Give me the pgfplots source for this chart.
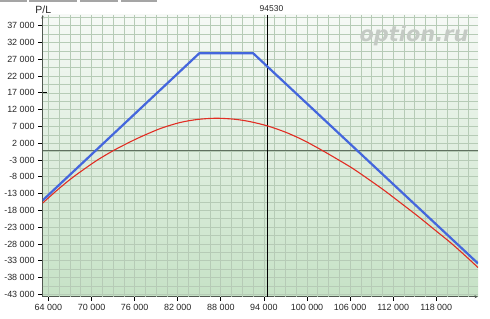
\documentclass[border=0pt]{standalone}
\usepackage{pgfplots}
\pgfplotsset{compat=1.18}
\usepackage{fontspec}
\setmainfont{Liberation Sans}
\newfontfamily\wmfont{DejaVu Sans}
\usetikzlibrary{arrows.meta}
\definecolor{bgtop}{RGB}{246,249,246}
\definecolor{bgbot}{RGB}{198,226,198}
\definecolor{gridcol}{RGB}{182,203,182}
\definecolor{axiscol}{RGB}{80,88,80}
\definecolor{zerocol}{RGB}{96,112,96}
\definecolor{bluecol}{RGB}{68,102,221}
\definecolor{redcol}{RGB}{225,45,35}
\definecolor{wmcol}{RGB}{196,202,196}
\definecolor{tabcol}{RGB}{165,165,165}
\begin{document}
\begin{tikzpicture}
\begin{axis}[
  at={(42.7bp,22.3bp)}, anchor=south west,
  scale only axis, width=435.3bp, height=281.7bp,
  xmin=63200, xmax=123800, ymin=-43700, ymax=40200,
  scaled x ticks=false, scaled y ticks=false,
  axis lines=left,
  axis line style={draw=axiscol, line width=0.8bp, -{Stealth[length=3.5bp,width=3bp]}},
  axis background/.style={top color=bgtop, bottom color=bgbot},
  xtick={64000,70000,76000,82000,88000,94000,100000,106000,112000,118000},
  xticklabels={64 000,70 000,76 000,82 000,88 000,94 000,100 000,106 000,112 000,118 000},
  ytick={-43000,-38000,-33000,-28000,-23000,-18000,-13000,-8000,-3000,2000,7000,12000,17000,22000,27000,32000,37000},
  yticklabels={-43 000,-38 000,-33 000,-28 000,-23 000,-18 000,-13 000,-8 000,-3 000,2 000,7 000,12 000,17 000,22 000,27 000,32 000,37 000},
  tick align=center, major tick length=9bp,
  tick style={draw=black, line width=0.8bp},
  ticklabel style={font=\fontsize{9}{10}\selectfont, text=black!85},
  extra x ticks={64000,65500,...,122500},
  extra x tick style={grid=major, xticklabel={}, major tick length=0pt, major grid style={draw=gridcol, line width=0.7bp}},
  extra y ticks={-43000,-40500,...,39500},
  extra y tick style={grid=major, yticklabel={}, major tick length=0pt, major grid style={draw=gridcol, line width=0.7bp}},
  clip=true,
]
\addplot[draw=zerocol, line width=0.8bp, forget plot] coordinates {(63200,0) (123800,0)};
\addplot[draw=black, line width=0.9bp, forget plot] coordinates {(94530,-43700) (94530,40200)};
\addplot[draw=redcol, line width=1.1bp, smooth] coordinates {
(63200,-15800) (65300,-11800) (67490,-8000) (70600,-3300) (73070,-150)
(75000,2000) (76790,3850) (79600,6400) (82370,8200) (84800,9100) (87300,9450)
(89830,9170) (92000,8470) (94530,7140) (97000,5300) (99460,2940) (102000,0)
(104180,-2700) (106360,-5500) (108540,-8700) (110720,-12000) (113050,-15800)
(115380,-19640) (117700,-23650) (120030,-27700) (121900,-31250) (123800,-35000)};
\addplot[draw=bluecol, line width=2.2bp] coordinates {
(63200,-15000) (85000,28800) (92500,28800) (123800,-33800)};
\end{axis}
\node[font=\fontsize{10.5}{12}\selectfont, text=black!85] at (43.3bp,309.5bp) {P/L};
\node[font=\fontsize{8.5}{10}\selectfont, text=black!85] at (271.5bp,310bp) {94530};
\node[font=\wmfont\bfseries\itshape\fontsize{21}{24}\selectfont, text=wmcol] at (414bp,283bp) {option.ru};
\fill[tabcol] (0bp,316.5bp) rectangle (27bp,319bp);
\fill[tabcol] (29bp,316.5bp) rectangle (77bp,319bp);
\fill[tabcol] (80bp,316.5bp) rectangle (118bp,319bp);
\fill[tabcol] (121bp,316.5bp) rectangle (157bp,319bp);
\pgfresetboundingbox
\useasboundingbox (0,0) rectangle (490bp,319bp);
\end{tikzpicture}
\end{document}
